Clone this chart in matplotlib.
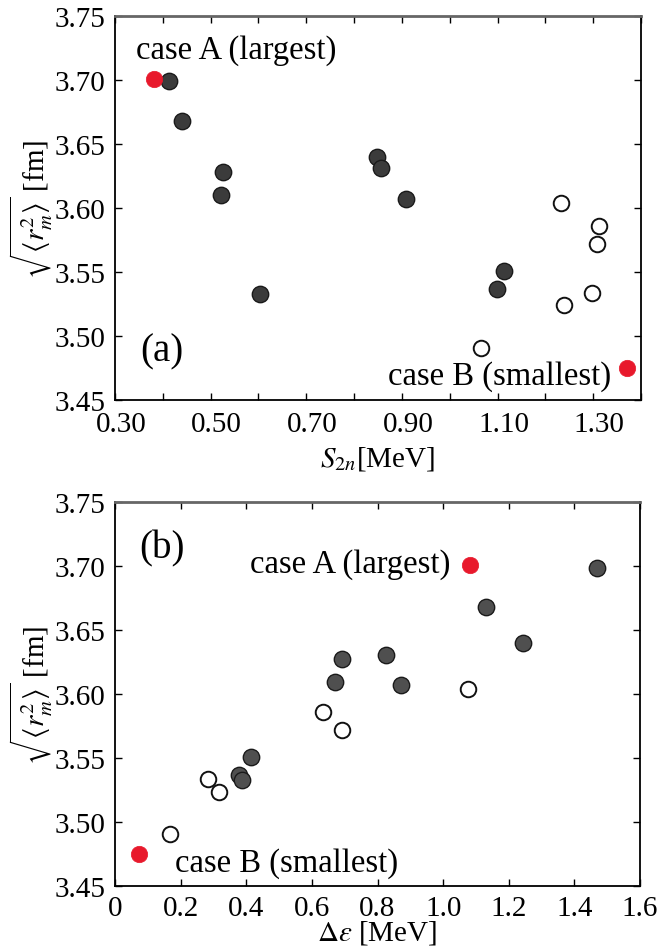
import numpy as np
import matplotlib
matplotlib.use("Agg")
import matplotlib.pyplot as plt
import matplotlib.transforms as mtransforms

plt.rcParams['font.family'] = ['Liberation Serif', 'DejaVu Serif']
plt.rcParams['mathtext.fontset'] = 'stix'

# ---- data ----
# filled (dark) points
dark_r = [3.699, 3.668, 3.640, 3.631, 3.628, 3.610, 3.607, 3.551, 3.537, 3.533]
dark_s2n = [0.412, 0.439, 0.847, 0.856, 0.525, 0.522, 0.909, 1.113, 1.098, 0.604]
dark_de = [1.470, 1.132, 1.244, 0.827, 0.693, 0.669, 0.873, 0.413, 0.379, 0.387]
# open points
open_r = [3.604, 3.586, 3.572, 3.534, 3.524, 3.491]
open_s2n = [1.232, 1.312, 1.308, 1.298, 1.239, 1.065]
open_de = [1.075, 0.634, 0.691, 0.283, 0.317, 0.167]
# highlighted cases (A = largest, B = smallest)
case_r = [3.701, 3.475]
case_s2n = [0.381, 1.371]
case_de = [1.083, 0.073]

yticks = [3.45, 3.50, 3.55, 3.60, 3.65, 3.70, 3.75]
ytick_labels = ['3.45', '3.50', '3.55', '3.60', '3.65', '3.70', '3.75']
xticks_a = [0.3, 0.4, 0.5, 0.6, 0.7, 0.8, 0.9, 1.0, 1.1, 1.2, 1.3, 1.4]
xtick_labels_a = ['0.30', '', '0.50', '', '0.70', '', '0.90', '', '1.10', '', '1.30', '']
xticks_b = [0, 0.2, 0.4, 0.6, 0.8, 1.0, 1.2, 1.4, 1.6]
xtick_labels_b = ['0', '0.2', '0.4', '0.6', '0.8', '1.0', '1.2', '1.4', '1.6']

red = '#e8192c'
fs = 21
fs_ann = 23.5
fs_panel = 28

fig = plt.figure(figsize=(6.63, 9.53), dpi=100)
ax1 = fig.add_axes([0.1735, 0.5792, 0.7934, 0.4029])
ax2 = fig.add_axes([0.1735, 0.0689, 0.7919, 0.4029])

ylab = r'$\sqrt{\langle r_m^2\rangle}$ [fm]'

def style(ax):
    ax.set_ylim(3.45, 3.75)
    ax.set_yticks(yticks)
    ax.set_yticklabels(ytick_labels)
    ax.tick_params(direction='in', top=True, right=True, length=5, width=1.0,
                   labelsize=fs, pad=7)
    ax.tick_params(axis='x', pad=8)
    for s in ['left', 'bottom', 'right']:
        ax.spines[s].set_linewidth(1.3)
        ax.spines[s].set_color('black')
    ax.spines['top'].set_linewidth(2.0)
    ax.spines['top'].set_color('#666666')
    ax.set_ylabel(ylab, fontsize=fs, labelpad=0)

ms = 11.8
# panel (a)
ax1.plot(dark_s2n, dark_r, 'o', ms=ms, mfc='#3b3b3b', mec='#1a1a1a', mew=1.0, ls='none')
ax1.plot(open_s2n, open_r, 'o', ms=ms - 0.6, mfc='white', mec='#111111', mew=1.4, ls='none')
ax1.plot(case_s2n, case_r, 'o', ms=ms, mfc=red, mec=red, mew=0.5, ls='none')
ax1.set_xlim(0.30, 1.40)
ax1.set_xticks(xticks_a)
ax1.set_xticklabels(xtick_labels_a)
style(ax1)
shift = mtransforms.ScaledTranslation(6 / 100, 0, fig.dpi_scale_trans)
for lab in ax1.get_xticklabels():
    lab.set_transform(lab.get_transform() + shift)
ax1.set_xlabel(r'$S_{2n}$[MeV]', fontsize=fs, labelpad=5)
ax1.text(0.040, 0.8925, 'case A (largest)', transform=ax1.transAxes, fontsize=fs_ann,
         ha='left', va='baseline')
ax1.text(0.943, 0.042, 'case B (smallest)', transform=ax1.transAxes, fontsize=fs_ann,
         ha='right', va='baseline')
ax1.text(0.047, 0.102, '(a)', transform=ax1.transAxes, fontsize=fs_panel,
         ha='left', va='baseline')

# panel (b)
ax2.plot(dark_de, dark_r, 'o', ms=ms, mfc='#4f4f4f', mec='#1a1a1a', mew=1.0, ls='none')
ax2.plot(open_de, open_r, 'o', ms=ms - 0.6, mfc='white', mec='#111111', mew=1.4, ls='none')
ax2.plot(case_de, case_r, 'o', ms=ms, mfc=red, mec=red, mew=0.5, ls='none')
ax2.set_xlim(0, 1.6)
ax2.set_xticks(xticks_b)
ax2.set_xticklabels(xtick_labels_b)
style(ax2)
ax2.tick_params(axis='x', pad=6)
ax2.set_xlabel(r'$\Delta\varepsilon$ [MeV]', fontsize=fs, va='center')
ax2.xaxis.set_label_coords(0.5, -0.12)
ax2.text(0.638, 0.8185, 'case A (largest)', transform=ax2.transAxes, fontsize=fs_ann,
         ha='right', va='baseline')
ax2.text(0.114, 0.0406, 'case B (smallest)', transform=ax2.transAxes, fontsize=fs_ann,
         ha='left', va='baseline')
ax2.text(0.047, 0.8576, '(b)', transform=ax2.transAxes, fontsize=fs_panel,
         ha='left', va='baseline')

fig.savefig('out.png', dpi=100)
